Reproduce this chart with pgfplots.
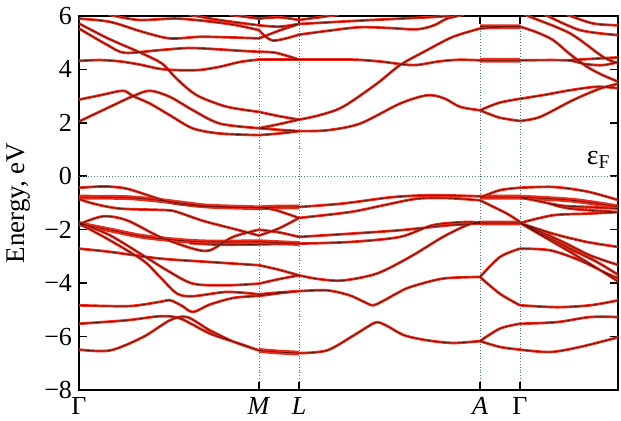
\documentclass[border=0pt]{standalone}
\usepackage{pgfplots}
\pgfplotsset{compat=1.18}
\usepackage{pgfplotstable}
\usepackage{fontspec}
\setmainfont{Liberation Serif}
\definecolor{bandred}{RGB}{236,42,24}
\definecolor{bandcore}{RGB}{70,18,14}
\definecolor{gridc}{RGB}{70,115,150}
\pgfplotstableread{
x y
0 2.87
21 3.03
44 3.2
54 3.0
71 2.72
91 2.28
114 1.79
141 1.6
180 1.54
nan nan
0 2.05
31 2.6
54 3.0
71 3.2
91 2.97
114 2.47
141 1.97
180 1.8
nan nan
0 5.72
29 5.16
63 4.6
83 4.22
95 3.75
108 3.3
121 2.97
148 2.6
180 2.41
nan nan
0 5.53
29 4.9
46 4.62
80 4.72
110 4.8
140 4.75
160 4.7
180 4.66
nan nan
0 4.32
21 4.35
41 4.3
61 4.18
81 4.02
101 3.97
121 3.98
141 4.1
161 4.28
180 4.37
nan nan
0 5.9
31 5.78
64 5.4
91 5.16
121 5.22
150 5.2
180 5.16
nan nan
30 6.05
60 5.85
100 5.9
150 5.7
180 5.47
nan nan
110 6.05
140 5.85
180 5.65
nan nan
150 6.05
180 5.9
nan nan
180 1.54
200 1.6
220 1.69
nan nan
180 1.8
200 1.74
220 1.69
nan nan
180 1.8
200 1.95
220 2.12
nan nan
180 2.41
200 2.25
220 2.12
nan nan
180 4.37
220 4.37
nan nan
180 4.66
197 4.62
220 4.37
nan nan
180 5.47
194 5.08
220 5.3
nan nan
180 5.16
200 5.45
220 5.7
nan nan
180 5.65
200 5.6
220 5.7
nan nan
180 5.9
200 5.95
220 5.85
nan nan
220 5.7
288 5.84
358 5.97
380 6.05
nan nan
220 5.85
260 6.05
nan nan
220 5.3
250 5.45
281 5.58
310 5.55
338 5.5
355 5.65
368 5.9
385 6.05
nan nan
220 4.37
271 4.37
300 4.3
334 4.16
360 4.3
380 4.36
401 4.34
nan nan
220 2.12
240 2.28
264 2.6
298 3.47
321 4.16
348 4.72
374 5.22
401 5.53
nan nan
220 1.69
248 1.72
281 1.97
321 2.72
348 3.03
365 2.92
381 2.6
401 2.47
nan nan
401 5.53
420 5.58
441 5.6
nan nan
401 2.47
420 2.75
441 2.9
nan nan
401 2.47
420 2.2
441 2.07
nan nan
441 2.07
461 2.22
494 2.85
521 3.28
540 3.47
nan nan
441 2.9
466 3.05
491 3.22
518 3.35
540 3.29
nan nan
441 4.34
488 4.34
506 4.2
524 4.16
540 4.28
nan nan
488 4.34
515 4.4
540 4.45
nan nan
441 5.6
457 5.4
474 5.1
490 4.6
508 4.1
524 3.78
540 3.53
nan nan
447 6.05
451 5.97
491 5.35
524 4.47
540 4.22
nan nan
466 6.05
501 5.47
540 5.28
nan nan
488 6.05
514 5.72
540 5.65
nan nan
0 -0.43
25 -0.38
46 -0.45
64 -0.65
80 -0.85
96 -1.02
121 -1.12
150 -1.16
180 -1.18
nan nan
0 -0.85
14 -1.02
41 -1.21
88 -1.27
100 -1.36
125 -1.68
158 -2.0
180 -2.22
nan nan
0 -1.8
24 -1.5
48 -1.65
81 -2.27
114 -2.71
131 -2.77
154 -2.27
180 -2.0
nan nan
110 -2.5
140 -2.56
180 -2.55
nan nan
0 -1.77
31 -2.4
64 -3.15
81 -3.77
98 -4.39
114 -4.49
148 -4.33
180 -4.42
nan nan
0 -1.72
31 -2.21
64 -2.96
88 -3.52
114 -4.02
148 -4.08
180 -4.02
nan nan
0 -2.71
31 -2.83
81 -3.08
131 -3.21
180 -3.33
nan nan
0 -4.83
50 -4.86
81 -4.7
91 -4.64
103 -4.85
114 -5.08
131 -4.8
155 -4.55
180 -4.48
nan nan
0 -5.52
48 -5.39
81 -5.24
101 -5.32
131 -5.89
161 -6.27
180 -6.52
nan nan
0 -6.49
31 -6.52
64 -6.02
91 -5.39
108 -5.27
131 -5.77
155 -6.2
180 -6.52
nan nan
180 -1.18
195 -1.25
220 -1.56
nan nan
180 -2.0
200 -2.1
220 -2.27
nan nan
180 -2.22
200 -1.95
220 -1.56
nan nan
180 -2.55
220 -2.52
nan nan
180 -3.33
200 -3.5
220 -3.71
nan nan
180 -4.02
200 -3.85
220 -3.71
nan nan
180 -4.42
200 -4.35
220 -4.3
nan nan
180 -4.48
200 -4.38
220 -4.3
nan nan
220 -1.15
264 -1.02
314 -0.78
354 -0.71
401 -0.75
nan nan
220 -1.56
271 -1.34
304 -1.09
338 -0.84
370 -0.82
401 -0.9
nan nan
220 -2.27
271 -2.15
321 -2.02
371 -1.83
401 -1.77
nan nan
220 -2.52
271 -2.46
321 -2.27
354 -1.83
388 -1.71
401 -1.75
nan nan
220 -3.71
240 -3.85
264 -3.9
298 -3.64
331 -3.02
364 -2.27
388 -1.83
401 -1.71
nan nan
220 -4.3
248 -4.27
270 -4.45
285 -4.7
294 -4.83
305 -4.65
318 -4.38
331 -4.15
364 -3.83
401 -3.77
nan nan
220 -6.62
248 -6.52
275 -5.95
290 -5.6
298 -5.46
308 -5.6
325 -5.95
348 -6.14
374 -6.24
401 -6.17
nan nan
401 -0.8
421 -0.52
441 -0.43
nan nan
401 -0.9
428 -1.4
441 -1.71
nan nan
401 -3.77
421 -3.02
441 -2.71
nan nan
401 -3.77
421 -4.4
441 -4.83
nan nan
401 -6.17
421 -5.7
441 -5.52
nan nan
401 -6.17
421 -6.39
441 -6.49
nan nan
441 -0.43
474 -0.4
508 -0.57
540 -0.9
nan nan
441 -0.8
464 -0.96
491 -1.21
540 -1.34
nan nan
441 -0.78
481 -1.09
508 -1.15
540 -1.21
nan nan
441 -1.75
474 -1.46
508 -1.4
540 -1.34
nan nan
441 -1.75
474 -2.15
508 -2.46
540 -2.65
nan nan
441 -1.75
451 -1.9
484 -2.46
511 -2.96
540 -3.33
nan nan
441 -1.75
491 -2.71
518 -3.21
540 -3.71
nan nan
441 -1.75
491 -2.83
524 -3.58
540 -3.96
nan nan
441 -2.71
471 -2.77
501 -3.15
528 -3.64
540 -3.83
nan nan
441 -4.83
478 -4.9
511 -4.83
540 -4.64
nan nan
441 -5.52
478 -5.46
511 -5.27
540 -5.27
nan nan
441 -6.49
471 -6.58
501 -6.39
540 -6.02
}\bands
\pgfplotstableread{
x y
401 5.6
441 5.6
nan nan
401 4.34
441 4.34
nan nan
0 -0.78
48 -0.8
80 -0.9
106 -1.02
130 -1.12
180 -1.18
nan nan
0 -1.78
30 -2.0
63 -2.25
100 -2.4
130 -2.46
180 -2.45
nan nan
180 -1.18
200 -1.15
220 -1.15
nan nan
180 -2.45
220 -2.52
nan nan
180 -6.52
200 -6.58
220 -6.62
nan nan
401 -0.78
441 -0.78
nan nan
401 -1.75
441 -1.75
nan nan
441 -0.78
494 -0.9
540 -1.15
}\thick
\begin{document}
\begin{tikzpicture}
\path[use as bounding box] (-39.5pt,-15.5pt) rectangle (271pt,195pt);
\begin{axis}[
  scale only axis, width=269.5pt, height=187pt,
  xmin=0, xmax=539, ymin=-8, ymax=6,
  unbounded coords=jump,
  xtick={0,180,220,401,441},
  xticklabels={Γ,\textit{M},\textit{L},\textit{A},Γ},
  ytick={-8,-6,-4,-2,0,2,4,6},
  yticklabels={−8,−6,−4,−2,0,2,4,6},
  xmajorgrids,
  grid style={gridc, densely dotted, line width=0.5pt},
  major tick length=4pt,
  tick style={black, line width=0.8pt},
  axis line style={line width=1pt},
  tick label style={font=\fontsize{13}{15}\selectfont},
  label style={font=\fontsize{13.5}{15}\selectfont},
  ylabel={Energy, eV},
  clip=true,
]
\addplot[gridc, densely dotted, line width=0.5pt] coordinates {(0,0) (539,0)};
\addplot[bandred, line width=1.35pt, smooth, tension=0.5] table {\bands};
\addplot[bandred, line width=2.4pt, smooth, tension=0.5] table {\thick};
\addplot[bandcore, line width=0.28pt, smooth, tension=0.5] table {\bands};
\addplot[bandcore, line width=0.28pt, smooth, tension=0.5] table {\thick};
\node[anchor=south east, font=\fontsize{14}{15}\selectfont, inner sep=1pt] at (axis cs:534,0.2) {ε\textsubscript{F}};
\end{axis}
\end{tikzpicture}
\end{document}
